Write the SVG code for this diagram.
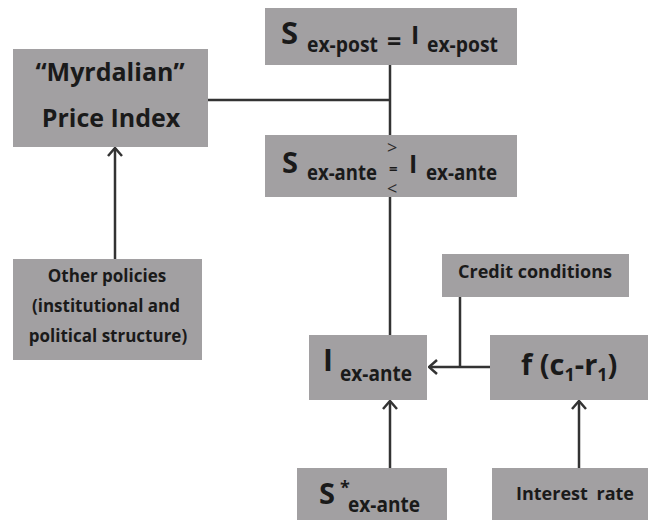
<svg xmlns="http://www.w3.org/2000/svg" width="648" height="520" viewBox="0 0 648 520">
<style>
.box{fill:#a2a0a2;}
.t{font-family:"Open Sans","Liberation Sans",sans-serif;font-weight:bold;fill:#1a1a1a;}
.op{font-family:"Open Sans","Liberation Sans",sans-serif;font-weight:normal;fill:#2a2a2a;}
.sub{font-size:21px;}
.c{stroke:#333333;stroke-width:2.5;fill:none;}
</style>
<defs>
<marker id="arr" viewBox="0 0 10 16" refX="9" refY="8" markerWidth="10" markerHeight="16" markerUnits="userSpaceOnUse" orient="auto">
<path d="M1,1 L9,8 L1,15" fill="none" stroke="#333333" stroke-width="2.5"/>
</marker>
</defs>
<rect width="648" height="520" fill="#ffffff"/>
<g id="connectors">
<line class="c" x1="390" y1="65" x2="390" y2="135"/>
<line class="c" x1="208" y1="100" x2="390" y2="100"/>
<line class="c" x1="390" y1="197" x2="390" y2="335"/>
<line class="c" x1="115" y1="259" x2="115" y2="148" marker-end="url(#arr)"/>
<line class="c" x1="490" y1="367" x2="429" y2="367" marker-end="url(#arr)"/>
<line class="c" x1="460" y1="297" x2="460" y2="367"/>
<line class="c" x1="390" y1="468" x2="390" y2="401" marker-end="url(#arr)"/>
<line class="c" x1="579" y1="468" x2="579" y2="401" marker-end="url(#arr)"/>
</g>
<g id="expost">
<rect class="box" x="265" y="8" width="252" height="57"/>
<text class="t" x="281" y="44" font-size="31">S</text>
<text class="t sub" x="307" y="52" textLength="71" lengthAdjust="spacingAndGlyphs">ex-post</text>
<text class="t" x="387" y="50" font-size="25">=</text>
<text class="t" x="411" y="44" font-size="25">I</text>
<text class="t sub" x="427" y="52" textLength="71" lengthAdjust="spacingAndGlyphs">ex-post</text>
</g>
<g id="myrdalian">
<rect class="box" x="13" y="49" width="195" height="98"/>
<text class="t" x="110" y="81" font-size="25" text-anchor="middle">“Myrdalian”</text>
<text class="t" x="111" y="127" font-size="25" text-anchor="middle">Price Index</text>
</g>
<g id="exante">
<rect class="box" x="265" y="135" width="252" height="62"/>
<text class="t" x="282" y="173" font-size="29">S</text>
<text class="t sub" x="307" y="180" textLength="70" lengthAdjust="spacingAndGlyphs">ex-ante</text>
<text class="op" x="387" y="154" font-size="18">&gt;</text>
<text class="t" x="389" y="174" font-size="15">=</text>
<text class="op" x="387" y="195" font-size="18">&lt;</text>
<text class="t" x="409" y="173" font-size="25">I</text>
<text class="t sub" x="426" y="180" textLength="71" lengthAdjust="spacingAndGlyphs">ex-ante</text>
</g>
<g id="other">
<rect class="box" x="13" y="259" width="189" height="101"/>
<text class="t" x="107" y="282" font-size="17" text-anchor="middle">Other policies</text>
<text class="t" x="106" y="312" font-size="17" text-anchor="middle">(institutional and</text>
<text class="t" x="108" y="342" font-size="17" text-anchor="middle">political structure)</text>
</g>
<g id="credit">
<rect class="box" x="442" y="254" width="187" height="43"/>
<text class="t" x="535" y="278" font-size="18" text-anchor="middle">Credit conditions</text>
</g>
<g id="iexante">
<rect class="box" x="309" y="335" width="118" height="65"/>
<text class="t" x="323" y="371" font-size="30">I</text>
<text class="t sub" x="340" y="381" textLength="72" lengthAdjust="spacingAndGlyphs">ex-ante</text>
</g>
<g id="f">
<rect class="box" x="490" y="335" width="158" height="65"/>
<text class="t" x="521" y="375" font-size="29">f (c<tspan font-size="18" dy="6">1</tspan><tspan dy="-6">-r</tspan><tspan font-size="18" dy="6">1</tspan><tspan dy="-6">)</tspan></text>
</g>
<g id="sstar">
<rect class="box" x="297" y="468" width="150" height="52"/>
<text class="t" x="319" y="504" font-size="29">S</text>
<text class="t" x="340" y="494" font-size="18">*</text>
<text class="t sub" x="348" y="512" textLength="72" lengthAdjust="spacingAndGlyphs">ex-ante</text>
</g>
<g id="interest">
<rect class="box" x="492" y="468" width="156" height="52"/>
<text class="t" x="575" y="500" font-size="18" text-anchor="middle" word-spacing="4">Interest rate</text>
</g>
</svg>
